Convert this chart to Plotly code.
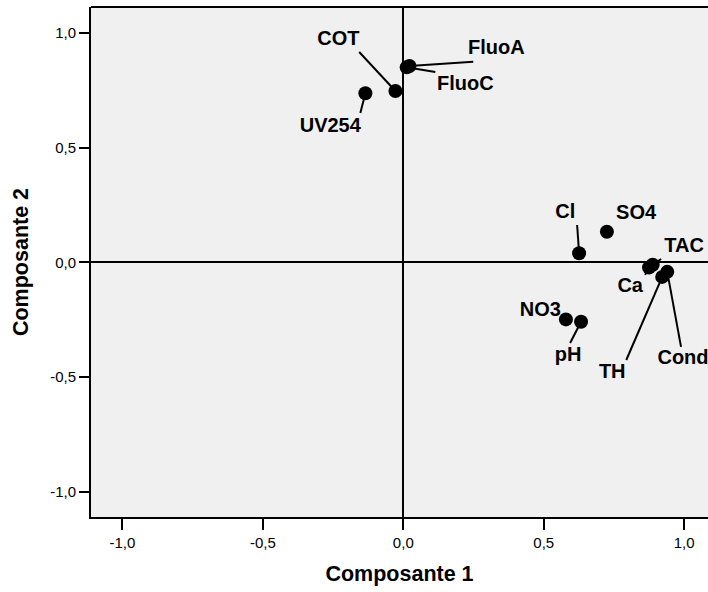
import plotly.graph_objects as go

# Loadings (Composante 1, Composante 2)
variables = ["UV254", "COT", "FluoC", "FluoA", "Cl", "SO4", "Ca", "TAC", "TH", "Cond", "NO3", "pH"]
comp1 = [-0.135, -0.028, 0.012, 0.022, 0.626, 0.725, 0.875, 0.888, 0.922, 0.940, 0.579, 0.633]
comp2 = [0.737, 0.747, 0.850, 0.856, 0.040, 0.134, -0.022, -0.010, -0.063, -0.041, -0.248, -0.258]

# label placement (data units) and leader line starting points (None = no leader)
label_x = [-0.260, -0.231, 0.221, 0.331, 0.577, 0.829, 0.808, 1.000, 0.744, 0.996, 0.488, 0.587]
label_y = [0.590, 0.970, 0.773, 0.930, 0.216, 0.211, -0.107, 0.068, -0.481, -0.420, -0.211, -0.407]
leader_x = [-0.153, -0.157, 0.114, 0.249, 0.619, None, 0.861, 0.918, 0.794, 0.989, None, 0.594]
leader_y = [0.651, 0.917, 0.830, 0.874, 0.163, None, -0.054, 0.015, -0.425, -0.368, None, -0.351]

x_ticks = [-1.0, -0.5, 0.0, 0.5, 1.0]
x_tick_labels = ["-1,0", "-0,5", "0,0", "0,5", "1,0"]
y_ticks = [-1.0, -0.5, 0.0, 0.5, 1.0]
y_tick_labels = ["-1,0", "-0,5", "0,0", "0,5", "1,0"]

fig = go.Figure()

# leader lines
lx, ly = [], []
for i in range(len(variables)):
    if leader_x[i] is not None:
        lx += [leader_x[i], comp1[i], None]
        ly += [leader_y[i], comp2[i], None]
fig.add_trace(go.Scatter(x=lx, y=ly, mode="lines", line=dict(color="black", width=2),
                         hoverinfo="skip", showlegend=False))

fig.add_trace(go.Scatter(x=comp1, y=comp2, mode="markers",
                         marker=dict(color="black", size=14),
                         text=variables, showlegend=False))

fig.add_trace(go.Scatter(x=label_x, y=label_y, mode="text", text=variables,
                         textfont=dict(family="Liberation Sans", size=20, color="black", weight="bold"),
                         cliponaxis=False, hoverinfo="skip", showlegend=False))

fig.update_layout(
    width=708, height=592,
    margin=dict(l=91, r=0, t=7, b=75),
    paper_bgcolor="white",
    plot_bgcolor="#f0f0f0",
    font=dict(family="Liberation Sans", color="black"),
    xaxis=dict(range=[-1.112, 1.085], tickvals=x_ticks, ticktext=x_tick_labels,
               ticks="outside", ticklen=11, tickwidth=2, tickcolor="black",
               showgrid=False, zeroline=True, zerolinecolor="black", zerolinewidth=2,
               showline=True, linecolor="black", linewidth=2,
               tickfont=dict(size=15, family="Liberation Sans"),
               title=dict(text="<b>Composante 1</b>", font=dict(size=21.5), standoff=16)),
    yaxis=dict(range=[-1.109, 1.113], tickvals=y_ticks, ticktext=y_tick_labels,
               ticks="outside", ticklen=10, tickwidth=2, tickcolor="black",
               showgrid=False, zeroline=True, zerolinecolor="black", zerolinewidth=2,
               showline=True, linecolor="black", linewidth=2,
               tickfont=dict(size=15, family="Liberation Sans"),
               title=dict(text="<b>Composante 2</b>", font=dict(size=21.5), standoff=16)),
    shapes=[dict(type="line", xref="paper", yref="paper", x0=0, x1=1, y0=1, y1=1,
                 line=dict(color="black", width=2))],
)

fig.write_html(
    "out.html",
    config={"displayModeBar": False},
    post_script="document.body.style.margin='0';document.body.style.overflow='hidden';"
                "document.documentElement.style.overflow='hidden';",
)
